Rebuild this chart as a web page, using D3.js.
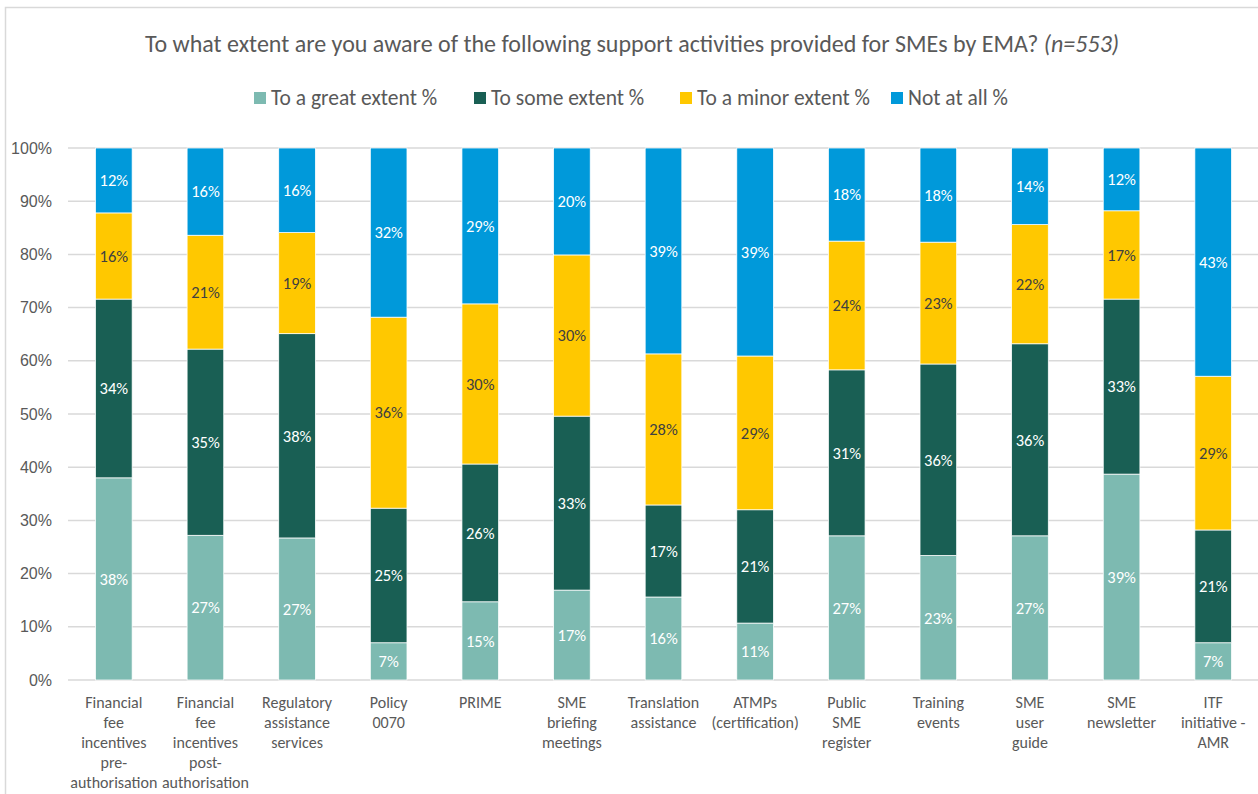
<!DOCTYPE html>
<html>
<head>
<meta charset="utf-8">
<script src="https://cdn.jsdelivr.net/npm/d3@7"></script>
<style>
  body { margin: 0; background: #fff; }
  svg { font-family: Carlito, Calibri, Lato, "Open Sans", sans-serif; }
</style>
</head>
<body>
<div id="chart"></div>
<script>
// categories, each split into the wrapped lines of its axis label
var categories = [
  ["Financial", "fee", "incentives", "pre-", "authorisation"],
  ["Financial", "fee", "incentives", "post-", "authorisation"],
  ["Regulatory", "assistance", "services"],
  ["Policy", "0070"],
  ["PRIME"],
  ["SME", "briefing", "meetings"],
  ["Translation", "assistance"],
  ["ATMPs", "(certification)"],
  ["Public", "SME", "register"],
  ["Training", "events"],
  ["SME", "user", "guide"],
  ["SME", "newsletter"],
  ["ITF", "initiative -", "AMR"]
]

var seriesNames = ["To a great extent %", "To some extent %", "To a minor extent %", "Not at all %"]

var greatExtent = [38.0, 27.2, 26.7, 7.0, 14.7, 16.9, 15.6, 10.7, 27.1, 23.4, 27.1, 38.7, 7.0]
var someExtent  = [33.6, 35.0, 38.4, 25.3, 25.9, 32.7, 17.3, 21.3, 31.2, 36.0, 36.1, 32.9, 21.2]
var minorExtent = [16.2, 21.4, 19.0, 35.9, 30.1, 30.3, 28.4, 28.9, 24.2, 22.9, 22.4, 16.6, 28.9]
var notAtAll    = [12.2, 16.4, 15.9, 31.8, 29.3, 20.1, 38.7, 39.1, 17.5, 17.7, 14.4, 11.8, 42.9]

var yTicks = [0, 10, 20, 30, 40, 50, 60, 70, 80, 90, 100]

var colors = ["#7dbab1", "#195f54", "#ffc800", "#0099da"]
var labelColors = ["#ffffff", "#ffffff", "#404040", "#ffffff"]

var W = 1258, H = 794
var margin = {top: 148, right: -1, bottom: 114, left: 68}
var width = W - margin.left - margin.right
var height = H - margin.top - margin.bottom

var svg = d3.select("#chart").append("svg")
    .attr("width", W)
    .attr("height", H)

// chart border
svg.append("rect")
    .attr("x", 5.5).attr("y", 7.5)
    .attr("width", W + 10).attr("height", H + 10)
    .attr("fill", "none")
    .attr("stroke", "#d9d9d9")
    .attr("stroke-width", 1.5)

var title = svg.append("text")
    .attr("x", 632).attr("y", 52)
    .attr("text-anchor", "middle")
    .attr("fill", "#595959")
    .style("font-size", "24px")
title.append("tspan").text("To what extent are you aware of the following support activities provided for SMEs by EMA? ")
title.append("tspan").style("font-style", "italic").text("(n=553)")

// legend
var legendX = [254, 474, 680, 891]
var legend = svg.append("g").selectAll("g")
    .data(seriesNames)
    .join("g")
    .attr("transform", (d, i) => "translate(" + legendX[i] + ",92)")
legend.append("rect")
    .attr("width", 12).attr("height", 12)
    .attr("fill", (d, i) => colors[i])
legend.append("text")
    .attr("x", 17).attr("y", 13)
    .attr("fill", "#595959")
    .style("font-size", "21.5px")
    .text(d => d)

var g = svg.append("g")
    .attr("transform", "translate(" + margin.left + "," + margin.top + ")")

var x = d3.scaleBand()
    .domain(d3.range(categories.length))
    .range([0, width])
    .paddingInner(0.6)
    .paddingOuter(0.3)

var y = d3.scaleLinear()
    .domain([0, 100])
    .range([height, 0])

// gridlines
g.append("g")
    .selectAll("line")
    .data(yTicks)
    .join("line")
    .attr("x1", 0).attr("x2", width)
    .attr("y1", d => y(d)).attr("y2", d => y(d))
    .attr("stroke", "#d9d9d9")
    .attr("stroke-width", 1.5)

var yAxis = g.append("g")
    .call(d3.axisLeft(y).tickValues(yTicks).tickSize(0).tickPadding(16).tickFormat(d => d + "%"))
yAxis.select(".domain").remove()
yAxis.selectAll("text")
    .attr("fill", "#595959")
    .style("font-size", "16px")
    .style("font-family", "inherit")

var rows = categories.map((c, i) => ({
    idx: i,
    s0: greatExtent[i], s1: someExtent[i], s2: minorExtent[i], s3: notAtAll[i]
}))
var stacked = d3.stack().keys(["s0", "s1", "s2", "s3"])(rows)

var layers = g.selectAll("g.layer")
    .data(stacked)
    .join("g")
    .attr("class", "layer")

layers.selectAll("rect")
    .data(d => d)
    .join("rect")
    .attr("x", d => x(d.data.idx))
    .attr("width", x.bandwidth())
    .attr("y", d => y(d[1]))
    .attr("height", d => y(d[0]) - y(d[1]))
    .attr("fill", function() { return colors[d3.select(this.parentNode).datum().index] })
    .attr("stroke", "#ffffff")
    .attr("stroke-width", 0.75)

layers.each(function(layer) {
    d3.select(this).selectAll("text")
        .data(layer)
        .join("text")
        .attr("x", d => x(d.data.idx) + x.bandwidth() / 2)
        .attr("y", d => y((d[0] + d[1]) / 2))
        .attr("dy", "0.35em")
        .attr("text-anchor", "middle")
        .attr("fill", labelColors[layer.index])
        .style("font-size", "16.5px")
        .text(d => Math.round(d[1] - d[0]) + "%")
})

// category labels
var xl = g.append("g").selectAll("text")
    .data(categories)
    .join("text")
    .attr("text-anchor", "middle")
    .attr("fill", "#595959")
    .style("font-size", "16px")
    .attr("transform", (d, i) => "translate(" + (x(i) + x.bandwidth() / 2) + "," + (height + 28) + ")")
xl.selectAll("tspan")
    .data(d => d)
    .join("tspan")
    .attr("x", 0)
    .attr("y", (d, i) => i * 20)
    .text(d => d)
</script>
</body>
</html>
